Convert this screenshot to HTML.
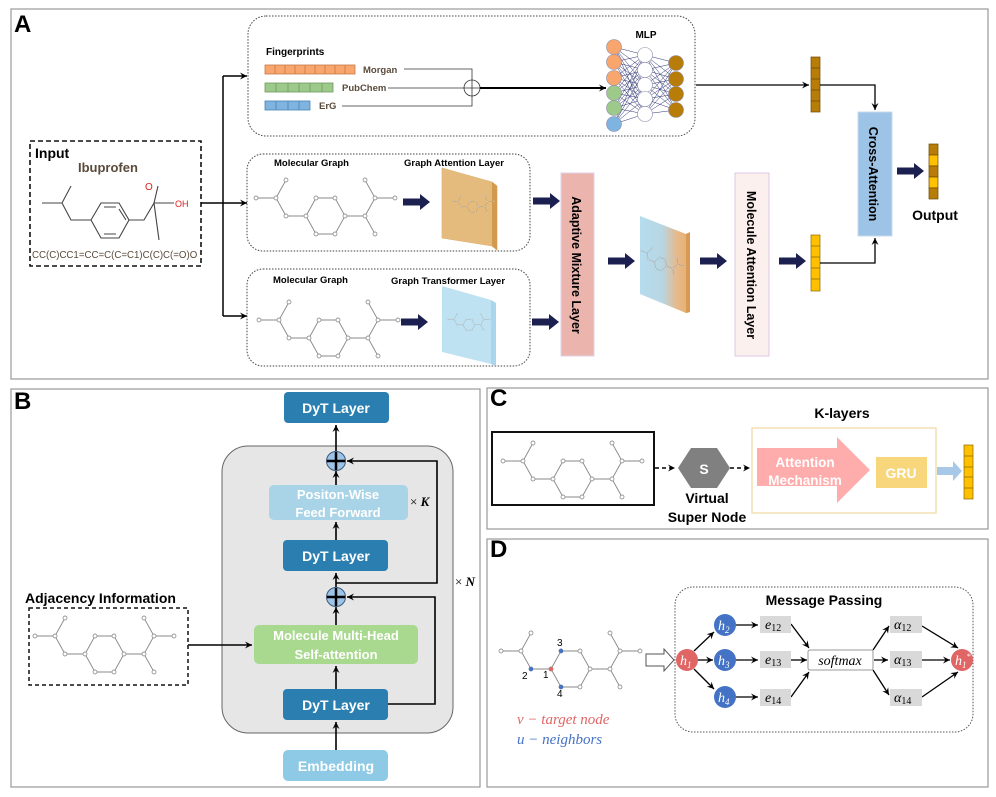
<!DOCTYPE html>
<html><head><meta charset="utf-8"><style>
html,body{margin:0;padding:0;background:#fff}
svg{display:block;font-family:"Liberation Sans",Arial,sans-serif}
.b{font-weight:bold}
</style></head><body>
<svg width="996" height="797" viewBox="0 0 996 797" xmlns="http://www.w3.org/2000/svg">
<defs>
<marker id="ar" markerWidth="8" markerHeight="8" refX="7" refY="4" orient="auto" markerUnits="userSpaceOnUse">
<path d="M0,0.5 L7,4 L0,7.5 L2.5,4 Z" fill="#000"/></marker>
<g id="mol" fill="none" stroke="#888" stroke-width="0.9">
<path d="M0,18 L20,18 L30,0 M20,18 L30,36 L50,36 L60,18 L79,18 L89,36 L79,54 L60,54 L50,36 M89,36 L109,36 L119,18 L139,18 M119,18 L109,0 M109,36 L119,54"/>
<g fill="#fff" stroke="#777" stroke-width="0.7">
<circle cx="0" cy="18" r="2"/><circle cx="20" cy="18" r="2"/><circle cx="30" cy="0" r="2"/><circle cx="30" cy="36" r="2"/><circle cx="50" cy="36" r="2"/><circle cx="60" cy="18" r="2"/><circle cx="79" cy="18" r="2"/><circle cx="89" cy="36" r="2"/><circle cx="79" cy="54" r="2"/><circle cx="60" cy="54" r="2"/><circle cx="109" cy="36" r="2"/><circle cx="119" cy="18" r="2"/><circle cx="139" cy="18" r="2"/><circle cx="109" cy="0" r="2"/><circle cx="119" cy="54" r="2"/></g></g>
<g id="fat"><path d="M0,-3.5 L17,-3.5 L17,-8 L27,0 L17,8 L17,3.5 L0,3.5 Z" fill="#1c2050"/></g>
<linearGradient id="mix" x1="0" x2="1"><stop offset="0" stop-color="#b5dcee"/><stop offset="0.45" stop-color="#b8d6e2"/><stop offset="0.75" stop-color="#e8b888"/><stop offset="1" stop-color="#e3b070"/></linearGradient>
</defs>

<!-- Panel frames -->
<rect x="11" y="9" width="977" height="370" fill="none" stroke="#999" stroke-width="1.2"/>
<rect x="11" y="389" width="469" height="398" fill="none" stroke="#999" stroke-width="1.2"/>
<rect x="487" y="388" width="501" height="141" fill="none" stroke="#999" stroke-width="1.2"/>
<rect x="487" y="539" width="501" height="248" fill="none" stroke="#999" stroke-width="1.2"/>

<!-- ===== A ===== -->
<text x="14" y="32" font-size="24" class="b">A</text>
<rect x="248" y="16" width="447" height="120" rx="18" fill="none" stroke="#444" stroke-dasharray="1.5,1.5"/>
<text x="266" y="55" font-size="10" class="b">Fingerprints</text>
<g stroke="#c77c45" stroke-width="0.8" fill="#f8a66e">
<rect x="265" y="65" width="90" height="9"/><path d="M275,65v9M285,65v9M295,65v9M305,65v9M315,65v9M325,65v9M335,65v9M345,65v9"/></g>
<g stroke="#6f9a5f" stroke-width="0.8" fill="#9dc98a">
<rect x="265" y="83" width="68" height="9"/><path d="M276,83v9M288,83v9M299,83v9M310,83v9M322,83v9"/></g>
<g stroke="#4a83b3" stroke-width="0.8" fill="#7fb3e0">
<rect x="265" y="101" width="45" height="9"/><path d="M276,101v9M288,101v9M299,101v9"/></g>
<g font-size="9.5" class="b" fill="#5a4a3a"><text x="363" y="73">Morgan</text><text x="342" y="91">PubChem</text><text x="319" y="109">ErG</text></g>
<g fill="none" stroke="#333" stroke-width="0.8">
<path d="M404,69 H472 V80"/><path d="M388,88 H464"/><path d="M342,106 H472 V96"/>
<circle cx="472" cy="88" r="8" fill="#fff"/><path d="M464,88H480M472,80V96"/></g>
<line x1="480" y1="88" x2="606" y2="88" stroke="#000" stroke-width="2" marker-end="url(#ar)"/>
<text x="646" y="38" font-size="10" class="b" text-anchor="middle">MLP</text>
<g stroke="#2c3370" stroke-width="0.5">
<path d="M614,47L645,55M614,47L645,70M614,47L645,85M614,47L645,99M614,47L645,114M614,62L645,55M614,62L645,70M614,62L645,85M614,62L645,99M614,62L645,114M614,78L645,55M614,78L645,70M614,78L645,85M614,78L645,99M614,78L645,114M614,93L645,55M614,93L645,70M614,93L645,85M614,93L645,99M614,93L645,114M614,108L645,55M614,108L645,70M614,108L645,85M614,108L645,99M614,108L645,114M614,124L645,55M614,124L645,70M614,124L645,85M614,124L645,99M614,124L645,114"/>
<path d="M645,55L676,63M645,55L676,79M645,55L676,94M645,55L676,110M645,70L676,63M645,70L676,79M645,70L676,94M645,70L676,110M645,85L676,63M645,85L676,79M645,85L676,94M645,85L676,110M645,99L676,63M645,99L676,79M645,99L676,94M645,99L676,110M645,114L676,63M645,114L676,79M645,114L676,94M645,114L676,110"/></g>
<g stroke="#8a8aaa" stroke-width="0.6">
<circle cx="614" cy="47" r="7.5" fill="#f8a66e"/><circle cx="614" cy="62" r="7.5" fill="#f8a66e"/><circle cx="614" cy="78" r="7.5" fill="#f8a66e"/>
<circle cx="614" cy="93" r="7.5" fill="#9dc98a"/><circle cx="614" cy="108" r="7.5" fill="#9dc98a"/><circle cx="614" cy="124" r="7.5" fill="#7fb3e0"/>
<circle cx="645" cy="55" r="7.5" fill="#fff"/><circle cx="645" cy="70" r="7.5" fill="#fff"/><circle cx="645" cy="85" r="7.5" fill="#fff"/><circle cx="645" cy="99" r="7.5" fill="#fff"/><circle cx="645" cy="114" r="7.5" fill="#fff"/>
<circle cx="676" cy="63" r="7.5" fill="#b87d08"/><circle cx="676" cy="79" r="7.5" fill="#b87d08"/><circle cx="676" cy="94" r="7.5" fill="#b87d08"/><circle cx="676" cy="110" r="7.5" fill="#b87d08"/></g>
<line x1="696" y1="85" x2="809" y2="85" stroke="#000" stroke-width="1.3" marker-end="url(#ar)"/>
<g stroke="#6b4a00" stroke-width="0.7" fill="#b87d08"><rect x="811" y="57" width="9" height="55"/><path d="M811,68h9M811,79h9M811,90h9M811,101h9"/></g>
<path d="M820,85 H875 V110" fill="none" stroke="#000" stroke-width="1.3" marker-end="url(#ar)"/>
<rect x="858" y="112" width="34" height="124" fill="#9dc3e6" stroke="#c9d8ec"/>
<text transform="translate(869,174) rotate(90)" font-size="12.5" class="b" text-anchor="middle">Cross-Attention</text>
<use href="#fat" x="897" y="171"/>
<g stroke="#6b4a00" stroke-width="0.7"><rect x="929" y="144" width="9" height="11" fill="#b87d08"/><rect x="929" y="155" width="9" height="11" fill="#ffc000"/><rect x="929" y="166" width="9" height="11" fill="#b87d08"/><rect x="929" y="177" width="9" height="11" fill="#ffc000"/><rect x="929" y="188" width="9" height="11" fill="#b87d08"/></g>
<text x="935" y="220" font-size="14" class="b" text-anchor="middle">Output</text>

<rect x="30" y="141" width="171" height="125" fill="none" stroke="#111" stroke-width="1.6" stroke-dasharray="5,3"/>
<text x="35" y="158" font-size="14" class="b">Input</text>
<text x="78" y="172" font-size="13" class="b" fill="#5a4a3a">Ibuprofen</text>
<g fill="none" stroke="#444" stroke-width="1.1">
<path d="M42,203 H62 L71,186 M62,203 L71,220 H91 L101,203 L119,203 L129,220 L119,238 L101,238 L91,220 M129,220 H144 L154,203 L158,186 M154,203 L159,240 M154,203 H174"/>
<path d="M104,207 L116,207 M104,234 L116,234 M126,220 L119,209"/></g>
<text x="145" y="190" font-size="10" fill="#e02020">O</text>
<text x="175" y="207" font-size="9" fill="#e02020">OH</text>
<text x="32" y="258" font-size="9.7" fill="#5a4a3a">CC(C)CC1=CC=C(C=C1)C(C)C(=O)O</text>
<path d="M201,203 H223 M223,76 V316" fill="none" stroke="#000" stroke-width="1.5"/>
<g stroke="#000" stroke-width="1.5" marker-end="url(#ar)"><line x1="223" y1="76" x2="247" y2="76"/><line x1="223" y1="203" x2="247" y2="203"/><line x1="223" y1="316" x2="247" y2="316"/></g>

<rect x="247" y="154" width="283" height="97" rx="16" fill="none" stroke="#444" stroke-dasharray="1.5,1.5"/>
<text x="274" y="166" font-size="9.5" class="b">Molecular Graph</text>
<text x="404" y="166" font-size="9.5" class="b">Graph Attention Layer</text>
<use href="#mol" x="256" y="180"/>
<use href="#fat" x="403" y="202"/>
<path d="M442,168 L492,182 L497,186 L497,250 L492,246 L442,238 Z" fill="#e2b574" stroke="#d6a258" stroke-width="0.6"/>
<path d="M442,168 L492,182 L492,246 L442,238 Z" fill="#e4bb7c"/>
<path d="M492,182 L497,186 L497,250 L492,246Z" fill="#d19a4f"/>
<g transform="translate(452,196) scale(0.3)"><use href="#mol" x="0" y="0"/></g>

<rect x="247" y="269" width="283" height="97" rx="16" fill="none" stroke="#444" stroke-dasharray="1.5,1.5"/>
<text x="273" y="283" font-size="9.5" class="b">Molecular Graph</text>
<text x="391" y="284" font-size="9.5" class="b">Graph Transformer Layer</text>
<use href="#mol" x="259" y="302"/>
<use href="#fat" x="401" y="322"/>
<path d="M442,286 L491,300 L491,364 L442,352 Z" fill="#bfe2f2"/>
<path d="M491,300 L496,303 L496,366 L491,364Z" fill="#a9d6ec"/>
<g transform="translate(448,314) scale(0.3)"><use href="#mol"/></g>

<use href="#fat" x="533" y="201"/><use href="#fat" x="532" y="322"/>
<rect x="561" y="173" width="33" height="183" fill="#ebb5ad" stroke="#e2d0e8"/>
<text transform="translate(572,265) rotate(90)" font-size="12.5" class="b" text-anchor="middle">Adaptive Mixture Layer</text>
<use href="#fat" x="608" y="261"/>
<path d="M640,216 L686,234 L690,233 L690,312 L686,313 L640,294 Z" fill="url(#mix)"/>
<path d="M686,234 L690,232 L690,312 L686,313Z" fill="#d89a55"/>
<g transform="translate(643,245) scale(0.33) rotate(20)"><use href="#mol"/></g>
<use href="#fat" x="700" y="261"/>
<rect x="735" y="173" width="34" height="183" fill="#fbf0ee" stroke="#dcc8e4"/>
<text transform="translate(747,265) rotate(90)" font-size="12.5" class="b" text-anchor="middle">Molecule Attention Layer</text>
<use href="#fat" x="779" y="261"/>
<g stroke="#8a6a00" stroke-width="0.7" fill="#ffc000"><rect x="811" y="235" width="9" height="56"/><path d="M811,246h9M811,257h9M811,268h9M811,279h9"/></g>
<path d="M820,263 H875 V238" fill="none" stroke="#000" stroke-width="1.3" marker-end="url(#ar)"/>

<!-- ===== B ===== -->
<text x="14" y="409" font-size="24" class="b">B</text>
<rect x="222" y="446" width="231" height="287" rx="26" fill="#e6e6e6" stroke="#666"/>
<g font-size="14" class="b" fill="#fff" text-anchor="middle">
<rect x="284" y="392" width="105" height="31" rx="4" fill="#2a7fb0"/><text x="336" y="413">DyT Layer</text>
<rect x="269" y="485" width="139" height="35" rx="5" fill="#a9d3e6"/><text x="338" y="499" font-size="13">Positon-Wise</text><text x="338" y="517" font-size="13">Feed Forward</text>
<rect x="283" y="540" width="105" height="31" rx="4" fill="#2a7fb0"/><text x="336" y="561">DyT Layer</text>
<rect x="254" y="625" width="164" height="39" rx="5" fill="#a9d88f"/><text x="336" y="640" font-size="13">Molecule Multi-Head</text><text x="336" y="659" font-size="13">Self-attention</text>
<rect x="283" y="689" width="105" height="31" rx="4" fill="#2a7fb0"/><text x="336" y="710">DyT Layer</text>
<rect x="283" y="750" width="105" height="31" rx="5" fill="#8ecae6"/><text x="336" y="771">Embedding</text></g>
<g stroke="#000" stroke-width="1.6" fill="none">
<line x1="336" y1="750" x2="336" y2="722" marker-end="url(#ar)"/>
<line x1="336" y1="689" x2="336" y2="666" marker-end="url(#ar)"/>
<line x1="336" y1="625" x2="336" y2="607" marker-end="url(#ar)"/>
<line x1="336" y1="588" x2="336" y2="573" marker-end="url(#ar)"/>
<line x1="336" y1="540" x2="336" y2="522" marker-end="url(#ar)"/>
<line x1="336" y1="485" x2="336" y2="471" marker-end="url(#ar)"/>
<line x1="336" y1="452" x2="336" y2="425" marker-end="url(#ar)"/>
<path d="M388,704 H435 V597 H347" marker-end="url(#ar)"/>
<path d="M336,583 H437 V461 H347" marker-end="url(#ar)"/>
<line x1="188" y1="645" x2="252" y2="645" marker-end="url(#ar)"/></g>
<g stroke="#3a5a7a" stroke-width="1"><circle cx="336" cy="461" r="9.5" fill="#9dc3e6"/><circle cx="336" cy="597" r="9.5" fill="#9dc3e6"/></g>
<path d="M327,461h18M336,452v18M327,597h18M336,588v18" stroke="#000" stroke-width="2.5"/>
<text x="410" y="506" font-size="13" font-family="Liberation Serif"><tspan>×</tspan> <tspan font-weight="bold" font-style="italic">K</tspan></text>
<text x="455" y="586" font-size="13" font-family="Liberation Serif"><tspan>×</tspan> <tspan font-weight="bold" font-style="italic">N</tspan></text>
<text x="25" y="603" font-size="14" class="b">Adjacency Information</text>
<rect x="29" y="608" width="159" height="77" fill="none" stroke="#111" stroke-width="1.5" stroke-dasharray="4,3"/>
<use href="#mol" x="35" y="618"/>

<!-- ===== C ===== -->
<text x="490" y="406" font-size="24" class="b">C</text>
<rect x="492" y="432" width="162" height="73" fill="none" stroke="#111" stroke-width="2"/>
<use href="#mol" x="503" y="443"/>
<g stroke="#000" stroke-width="1.4" stroke-dasharray="4,3"><line x1="655" y1="468" x2="675" y2="468" marker-end="url(#ar)"/><line x1="730" y1="468" x2="750" y2="468" marker-end="url(#ar)"/></g>
<path d="M678,468 L691,448 L717,448 L730,468 L717,488 L691,488 Z" fill="#808080"/>
<text x="704" y="474" font-size="14" class="b" fill="#fff" text-anchor="middle">S</text>
<text x="707" y="503" font-size="14" class="b" text-anchor="middle">Virtual</text>
<text x="707" y="522" font-size="14" class="b" text-anchor="middle">Super Node</text>
<text x="842" y="418" font-size="14" class="b" text-anchor="middle">K-layers</text>
<rect x="752" y="428" width="184" height="85" fill="none" stroke="#f0d8a0" stroke-width="1.2"/>
<path d="M757,448 H837 V437 L870,470 L837,503 V486 H757 Z" fill="#ffacac"/>
<text x="805" y="467" font-size="13.5" class="b" fill="#fff" text-anchor="middle">Attention</text>
<text x="805" y="485" font-size="13.5" class="b" fill="#fff" text-anchor="middle">Mechanism</text>
<rect x="876" y="457" width="51" height="31" fill="#f8d67c"/>
<text x="901" y="478" font-size="14" class="b" fill="#fff" text-anchor="middle">GRU</text>
<path d="M937,467 H953 V461 L962,471 L953,481 V475 H937 Z" fill="#a8c8e8"/>
<g stroke="#8a6a00" stroke-width="0.7" fill="#ffc000"><rect x="964" y="445" width="9" height="54"/><path d="M964,456h9M964,467h9M964,477h9M964,488h9"/></g>

<!-- ===== D ===== -->
<text x="490" y="557" font-size="24" class="b">D</text>
<use href="#mol" x="501" y="633"/>
<circle cx="531" cy="669" r="2.2" fill="#4472c4"/><circle cx="551" cy="669" r="2.2" fill="#e06666"/>
<circle cx="561" cy="651" r="2.2" fill="#4472c4"/><circle cx="561" cy="687" r="2.2" fill="#4472c4"/>
<g font-size="10"><text x="522" y="679">2</text><text x="543" y="678">1</text><text x="557" y="646">3</text><text x="557" y="697">4</text></g>
<g font-family="Liberation Serif" font-style="italic" font-size="15"><text x="517" y="724" fill="#e06666">v − target node</text><text x="517" y="744" fill="#4472c4">u − neighbors</text></g>
<path d="M646,654 H664 V649 L674,660 L664,671 V666 H646 Z" fill="#fff" stroke="#555"/>
<rect x="675" y="587" width="298" height="145" rx="18" fill="none" stroke="#555" stroke-dasharray="1.5,1.5"/>
<text x="824" y="605" font-size="14" class="b" text-anchor="middle">Message Passing</text>
<g stroke="#000" stroke-width="1.3" fill="none">
<line x1="694" y1="651" x2="714" y2="632" marker-end="url(#ar)"/><line x1="698" y1="660" x2="713" y2="660" marker-end="url(#ar)"/><line x1="694" y1="669" x2="714" y2="689" marker-end="url(#ar)"/>
<line x1="736" y1="625" x2="758" y2="625" marker-end="url(#ar)"/><line x1="736" y1="660" x2="758" y2="660" marker-end="url(#ar)"/><line x1="736" y1="697" x2="758" y2="697" marker-end="url(#ar)"/>
<line x1="791" y1="624" x2="809" y2="648" marker-end="url(#ar)"/><line x1="791" y1="660" x2="807" y2="660" marker-end="url(#ar)"/><line x1="791" y1="697" x2="809" y2="672" marker-end="url(#ar)"/>
<line x1="873" y1="650" x2="889" y2="626" marker-end="url(#ar)"/><line x1="874" y1="660" x2="888" y2="660" marker-end="url(#ar)"/><line x1="873" y1="670" x2="889" y2="695" marker-end="url(#ar)"/>
<line x1="922" y1="626" x2="958" y2="648" marker-end="url(#ar)"/><line x1="922" y1="660" x2="950" y2="660" marker-end="url(#ar)"/><line x1="922" y1="697" x2="958" y2="672" marker-end="url(#ar)"/></g>
<circle cx="687" cy="660" r="11" fill="#e06666"/><circle cx="962" cy="660" r="11" fill="#e06666"/>
<circle cx="725" cy="625" r="11" fill="#4472c4"/><circle cx="725" cy="660" r="11" fill="#4472c4"/><circle cx="725" cy="697" r="11" fill="#4472c4"/>
<g font-family="Liberation Serif" font-style="italic" fill="#fff" font-size="14">
<text x="680" y="665">h<tspan font-size="9" dy="3">1</tspan></text><text x="955" y="665">h<tspan font-size="9" dy="3">1</tspan><tspan font-size="8" dy="-9">*</tspan></text>
<text x="718" y="630">h<tspan font-size="9" dy="3">2</tspan></text><text x="718" y="665">h<tspan font-size="9" dy="3">3</tspan></text><text x="718" y="702">h<tspan font-size="9" dy="3">4</tspan></text></g>
<g fill="#d9d9d9"><rect x="760" y="616" width="31" height="17"/><rect x="760" y="651" width="31" height="17"/><rect x="760" y="689" width="31" height="17"/>
<rect x="890" y="616" width="32" height="17"/><rect x="890" y="651" width="32" height="17"/><rect x="890" y="689" width="32" height="17"/></g>
<rect x="808" y="650" width="65" height="20" rx="2" fill="#fff" stroke="#999"/>
<g font-family="Liberation Serif" font-style="italic" font-size="14">
<text x="765" y="629">e<tspan font-size="10" font-style="normal" dy="2">12</tspan></text><text x="765" y="664">e<tspan font-size="10" font-style="normal" dy="2">13</tspan></text><text x="765" y="702">e<tspan font-size="10" font-style="normal" dy="2">14</tspan></text>
<text x="894" y="629">α<tspan font-size="10" font-style="normal" dy="2">12</tspan></text><text x="894" y="664">α<tspan font-size="10" font-style="normal" dy="2">13</tspan></text><text x="894" y="702">α<tspan font-size="10" font-style="normal" dy="2">14</tspan></text>
<text x="840" y="665" text-anchor="middle">softmax</text></g>
</svg>
</body></html>
